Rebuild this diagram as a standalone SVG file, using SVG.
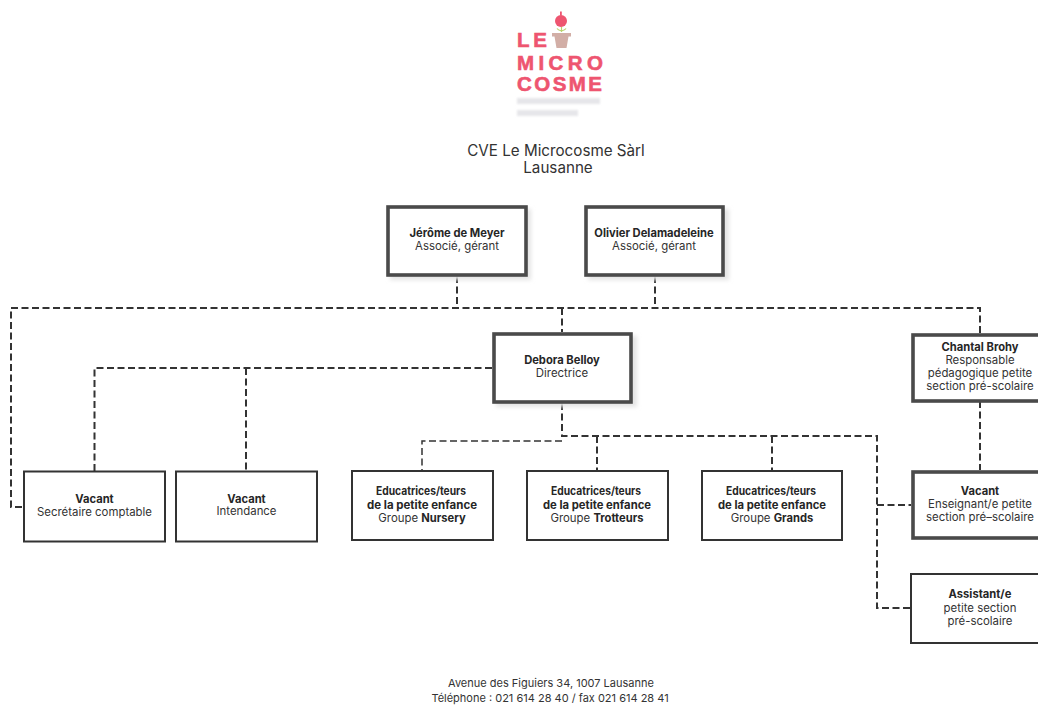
<svg xmlns="http://www.w3.org/2000/svg" width="1038" height="705" viewBox="0 0 1038 705">
<style>
text{font-family:"Inter","Open Sans","Liberation Sans",sans-serif;fill:#333;text-anchor:middle;font-size:11.4px;font-weight:400}
.b,tspan.b{font-weight:700;font-size:11.2px;fill:#262626}
.title{font-size:15.2px}
.foot{font-size:11px}
.logo{font-family:"Liberation Sans",sans-serif;font-weight:700;font-size:20.500px;fill:#ee5570;text-anchor:start;stroke:#ee5570;stroke-width:.6}
.box{fill:#fff;stroke:#333;stroke-width:2}
.thick{fill:#fff;stroke:#4a4a4a;stroke-width:3.600}
.c{fill:none;stroke:#333;stroke-width:2;stroke-dasharray:7 3.5}
.c2{fill:none;stroke:#333;stroke-width:1.500;stroke-dasharray:7 3.5}
</style>
<defs>
<filter id="s" x="-10%" y="-10%" width="125%" height="125%"><feGaussianBlur stdDeviation="2"/></filter>
<filter id="bl" x="-10%" y="-50%" width="120%" height="200%"><feGaussianBlur stdDeviation="1.2"/></filter>
</defs>
<rect width="1038" height="705" fill="#fff"/>
<g id="logo">
<text class="logo" x="517" y="47" textLength="30">LE</text>
<text class="logo" x="517" y="69.500" textLength="86">MICRO</text>
<text class="logo" x="517" y="91" textLength="85">COSME</text>
<path d="M552 33H571V36.500H568.500L566.500 48H556.500L554.500 36.500H552Z" fill="#d2aea6"/>
<path d="M561.500 32V27M561.500 31Q558 30 557 28.500M561.500 31Q565 30 566 28.500" fill="none" stroke="#b9d36c" stroke-width="1.200"/>
<circle cx="561" cy="21" r="6" fill="#ee5570"/>
<rect x="560" y="11.500" width="1.800" height="4" fill="#ee5570"/>
<g fill="#e6e6ea" filter="url(#bl)">
<rect x="517" y="98" width="83" height="6"/>
<rect x="517" y="110" width="61" height="6"/>
</g>
</g>
<g id="title">
<text class="title" x="556" y="156">CVE Le Microcosme Sàrl</text>
<text class="title" x="558" y="173">Lausanne</text>
</g>
<g id="connectors">
<path class="c" d="M457 276V308"/>
<path class="c" d="M655 276V308"/>
<path class="c" d="M980 333V308H11V507H24"/>
<path class="c" d="M562 308V332"/>
<path class="c" d="M492 368H94.500V471"/>
<path class="c" d="M246 368V471"/>
<path class="c" d="M562 403V436H877V608H911"/>
<path class="c2" d="M562 441H422V471"/>
<path class="c" d="M597 436V471"/>
<path class="c" d="M772 436V471"/>
<path class="c" d="M877 505H911"/>
<path class="c" d="M980 401V470"/>
</g>
<g id="n-jerome">
<rect x="390" y="209" width="141" height="71" fill="#e4e4e4" filter="url(#s)"/>
<rect class="thick" x="388" y="207" width="138" height="68"/>
<text class="b" x="457" y="237">Jérôme de Meyer</text>
<text x="457" y="250">Associé, gérant</text>
</g>
<g id="n-olivier">
<rect x="588" y="209" width="141" height="71" fill="#e4e4e4" filter="url(#s)"/>
<rect class="thick" x="586" y="207" width="137" height="68"/>
<text class="b" x="654" y="237">Olivier Delamadeleine</text>
<text x="654" y="250">Associé, gérant</text>
</g>
<g id="n-debora">
<rect x="496" y="336" width="141" height="71" fill="#e4e4e4" filter="url(#s)"/>
<rect class="thick" x="494" y="334" width="137" height="68"/>
<text class="b" x="562" y="364">Debora Belloy</text>
<text x="562" y="377">Directrice</text>
</g>
<g id="n-chantal">
<rect class="thick" x="913" y="335" width="130" height="66"/>
<text class="b" x="980" y="351">Chantal Brohy</text>
<text x="980" y="364">Responsable</text>
<text x="980" y="377">pédagogique petite</text>
<text x="980" y="390">section pré-scolaire</text>
</g>
<g id="n-vacant-secretaire">
<rect class="box" x="24" y="471.500" width="141" height="70"/>
<text class="b" x="94.500" y="503">Vacant</text>
<text x="94.500" y="516">Secrétaire comptable</text>
</g>
<g id="n-vacant-intendance">
<rect class="box" x="176" y="471.500" width="141" height="70"/>
<text class="b" x="246.500" y="503">Vacant</text>
<text x="246.500" y="515">Intendance</text>
</g>
<g id="n-nursery">
<rect class="box" x="352" y="471" width="141" height="69"/>
<text class="b" x="421" y="495" textLength="90" lengthAdjust="spacingAndGlyphs">Educatrices/teurs</text>
<text class="b" x="422" y="509" textLength="110" lengthAdjust="spacingAndGlyphs">de la petite enfance</text>
<text x="422" y="522">Groupe <tspan class="b">Nursery</tspan></text>
</g>
<g id="n-trotteurs">
<rect class="box" x="527" y="471" width="141" height="69"/>
<text class="b" x="596" y="495" textLength="90" lengthAdjust="spacingAndGlyphs">Educatrices/teurs</text>
<text class="b" x="597" y="509" textLength="108" lengthAdjust="spacingAndGlyphs">de la petite enfance</text>
<text x="597" y="522">Groupe <tspan class="b">Trotteurs</tspan></text>
</g>
<g id="n-grands">
<rect class="box" x="702" y="471" width="140" height="69"/>
<text class="b" x="771" y="495" textLength="90" lengthAdjust="spacingAndGlyphs">Educatrices/teurs</text>
<text class="b" x="772" y="509" textLength="108" lengthAdjust="spacingAndGlyphs">de la petite enfance</text>
<text x="772" y="522">Groupe <tspan class="b">Grands</tspan></text>
</g>
<g id="n-enseignant">
<rect class="thick" x="913" y="472" width="130" height="66"/>
<text class="b" x="980" y="495">Vacant</text>
<text x="980" y="508">Enseignant/e petite</text>
<text x="980" y="521">section pré–scolaire</text>
</g>
<g id="n-assistant">
<rect class="box" x="911" y="574" width="132" height="69"/>
<text class="b" x="980" y="598">Assistant/e</text>
<text x="980" y="612">petite section</text>
<text x="980" y="625">pré-scolaire</text>
</g>
<g id="footer">
<text class="foot" x="551" y="687">Avenue des Figuiers 34, 1007 Lausanne</text>
<text class="foot" x="550" y="702">Téléphone : 021 614 28 40 / fax 021 614 28 41</text>
</g>
</svg>
